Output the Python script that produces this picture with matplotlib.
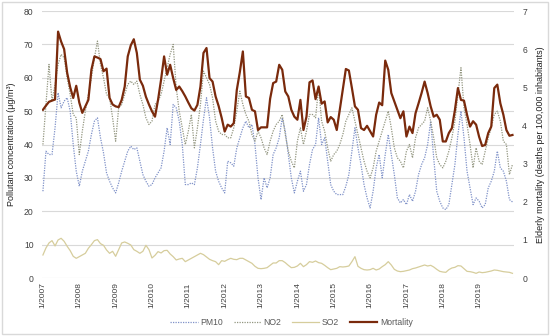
import matplotlib
matplotlib.use("Agg")
import matplotlib.pyplot as plt
from matplotlib.patches import Rectangle
import numpy as np

plt.rcParams['font.family'] = ['Liberation Sans', 'DejaVu Sans']

year_labels = ["1/2007", "1/2008", "1/2009", "1/2010", "1/2011", "1/2012", "1/2013",
               "1/2014", "1/2015", "1/2016", "1/2017", "1/2018", "1/2019"]

pm10 = [26, 38, 37, 37, 45, 55.5, 51, 53, 54, 50, 40, 32,
        27.5, 32, 35, 38, 43, 47, 48, 42, 37.5, 31.5, 29, 27,
        25.5, 28.5, 32, 35, 38, 39.5, 38.5, 39, 35, 31, 29, 27.5,
        28, 30, 31.5, 33, 38, 45, 40, 52, 51, 47, 40, 28,
        28, 28.5, 28, 33, 40, 47.5, 54, 48, 39, 32, 29, 27,
        25.5, 35, 34.5, 33.5, 39, 42, 45, 47, 45, 46, 40, 30,
        23.5, 30, 27, 30, 37, 39, 42, 48, 44, 37, 30, 25.5,
        29, 32, 26, 28, 34, 38.5, 40, 48, 40, 42, 35, 28,
        26, 25, 25, 25, 27.5, 31, 38, 45, 39, 34, 28, 24,
        21, 26, 33, 37, 30, 37, 43, 37, 31, 24, 22.5, 23.5,
        22, 25, 23, 26, 31, 34, 36, 40, 47, 36, 26, 23,
        21, 20.5, 22, 28, 34, 43, 50, 42, 32, 27, 22, 24,
        23, 21, 22, 27, 29, 32, 38, 33, 32, 29, 23.5, 22.8]

no2 = [40, 52, 64, 53, 58, 64, 67, 66, 60, 55, 49, 48,
       37, 44, 50, 55, 60, 66, 71, 64, 60, 55, 54, 48,
       41, 51, 52, 55, 58, 59, 58, 59, 55, 52, 48, 46,
       47, 52, 53, 55, 59, 63, 67, 70, 57, 50, 45, 40,
       44, 49, 39, 45, 52, 62, 60, 58, 54, 47, 44, 43,
       43, 42, 42, 45, 50, 56, 52, 49, 47, 43, 41, 44,
       42, 39, 37, 41, 44, 46, 47, 49, 43, 38, 35, 33,
       41, 45, 40, 44, 49, 49, 48, 57, 47, 44, 39, 35,
       37, 38, 40, 43, 47, 49, 51, 47, 43, 39, 35, 32,
       30, 33, 38, 41, 44, 47, 50, 45, 39, 36, 35, 33,
       38, 40, 36, 42, 45, 46, 47, 51, 47, 42, 36, 34,
       33, 35, 38, 42, 47, 55, 63, 51, 46, 40, 33, 39,
       35, 34, 38, 42, 45, 49, 50, 47, 41, 40, 31, 34]

so2 = [6.9, 9, 10.5, 11.2, 9.6, 11.4, 11.9, 11, 9.5, 8.2, 6.5, 5.9,
       6.4, 6.9, 7.4, 8.9, 10, 11.2, 11.5, 10.3, 9.8, 8.4, 7.4, 8,
       6.5, 8.5, 10.5, 10.8, 10.4, 9.9, 8.5, 8, 7.4, 8, 9.8, 8.5,
       6, 6.8, 7.9, 7.5, 8.2, 8.3, 7.2, 6.4, 5.4, 5.7, 5.9, 4.9,
       5.4, 5.9, 6.4, 6.9, 7.4, 7.0, 6.3, 5.6, 5.2, 4.9, 4.0, 5.2,
       5.0, 5.5, 5.9, 5.6, 5.5, 5.9, 5.9, 5.4, 4.9, 4.4, 3.5, 2.9,
       2.8, 2.9, 3.1, 3.8, 4.5, 4.5, 5.2, 5.2, 4.6, 3.8, 3.1, 3.2,
       3.6, 4.4, 3.4, 4.0, 4.9, 4.7, 5.1, 4.6, 4.4, 3.8, 3.1, 2.5,
       2.7, 2.9, 3.4, 3.3, 3.4, 3.6, 4.9, 6.4, 3.5, 2.9, 2.5, 2.4,
       2.5, 2.9, 2.4, 2.7, 3.4, 4.0, 4.9, 3.9, 2.6, 2.1, 1.9, 2.0,
       2.2, 2.4, 2.8, 3.0, 3.3, 3.6, 3.9, 3.6, 3.8, 3.3, 2.6, 2.0,
       1.8, 1.7, 2.5, 3.0, 3.2, 3.7, 3.6, 2.8, 2.0, 1.9, 1.7, 1.4,
       1.8, 1.6, 1.7, 1.9, 2.1, 2.4, 2.3, 2.1, 1.9, 1.8, 1.7, 1.4]

mortality = [4.41, 4.52, 4.62, 4.65, 4.68, 6.46, 6.2, 6.0, 5.38, 5.0, 4.72, 5.04,
             4.6, 4.33, 4.5, 4.67, 5.46, 5.81, 5.78, 5.74, 5.42, 5.49, 4.72, 4.55,
             4.5, 4.48, 4.67, 5.02, 5.81, 6.1, 6.26, 5.9, 5.2, 5.04, 4.75, 4.55,
             4.37, 4.23, 4.67, 5.2, 5.81, 5.33, 5.59, 5.24, 4.93, 5.02, 4.9, 4.76,
             4.6, 4.45, 4.39, 4.54, 5.02, 5.9, 6.03, 5.24, 5.15, 4.76, 4.51, 4.2,
             3.84, 4.02, 3.97, 4.06, 4.93, 5.4, 5.94, 4.76, 4.72, 4.41, 4.37, 3.88,
             3.95, 3.95, 3.95, 4.7, 5.11, 5.15, 5.59, 5.46, 4.89, 4.76, 4.41, 4.23,
             4.15, 4.67, 3.88, 4.23, 5.13, 5.18, 4.69, 5.02, 4.57, 4.63, 4.08, 4.22,
             4.15, 3.88, 4.41, 4.95, 5.48, 5.44, 4.98, 4.5, 4.41, 3.93, 3.88, 3.99,
             3.85, 3.71, 4.28, 4.6, 4.53, 5.7, 5.46, 4.85, 4.63, 4.41, 4.19, 4.37,
             3.71, 3.97, 3.8, 4.32, 4.58, 4.85, 5.15, 4.85, 4.5, 4.23, 4.28, 4.15,
             3.58, 3.58, 3.8, 3.93, 4.4, 4.98, 4.67, 4.65, 4.28, 3.97, 4.11, 4.02,
             3.7, 3.46, 3.49, 3.8, 3.97, 4.98, 5.07, 4.58, 4.28, 3.88, 3.73, 3.75]

x = np.arange(len(mortality))

fig = plt.figure(figsize=(5.5, 3.36), dpi=100)
fig.patches.append(Rectangle((0.004, 0.006), 0.992, 0.988, transform=fig.transFigure,
                             fill=False, edgecolor='#d9d9d9', linewidth=1.0))
ax = fig.add_axes([0.0764, 0.1726, 0.8581, 0.7946])
ax2 = ax.twinx()

grid_c = '#d9d9d9'
for v in range(0, 81, 10):
    ax.axhline(v, color=grid_c, lw=0.8, zorder=0)

l1, = ax.plot(x, pm10, color='#7f91c8', lw=0.9, ls=(0, (1, 1)), label='PM10', zorder=2)
l2, = ax.plot(x, no2, color='#939680', lw=0.9, ls=(0, (1, 1)), label='NO2', zorder=2)
l3, = ax.plot(x, so2, color='#d6cd9c', lw=0.9, label='SO2', zorder=2)
l4, = ax2.plot(x, mortality, color='#7a2a0c', lw=1.6, label='Mortality', zorder=3)

ax.set_xlim(-0.3, 155.5)
ax.set_ylim(0, 80)
ax2.set_ylim(0, 7)
ax.set_yticks(range(0, 81, 10))
ax2.set_yticks(range(0, 8))
ax.set_xticks(np.arange(0, 156, 12))
ax.set_xticklabels(year_labels, rotation=90, fontsize=6, color='#404040')

for a in (ax, ax2):
    for s in a.spines.values():
        s.set_visible(False)
ax.tick_params(axis='x', length=0, pad=3)
ax.tick_params(axis='y', length=0, pad=6, labelsize=6.2, labelcolor='#404040')
ax2.tick_params(axis='y', length=0, pad=6, labelsize=6.2, labelcolor='#404040')

ax.set_ylabel('Pollutant concentration (μg/m³)', fontsize=6.5, color='#222222', labelpad=6)
ax2.set_ylabel('Elderly mortality (deaths per 100,000 inhabitants)', fontsize=6.5,
               color='#222222', labelpad=6)

fig.legend(handles=[l1, l2, l3, l4], loc='center', bbox_to_anchor=(0.53, 0.04),
           ncol=4, frameon=False, fontsize=6.2, handlelength=3.2, columnspacing=1.2,
           handletextpad=0.3, labelcolor='#595959')

fig.savefig('out.png', dpi=100)
